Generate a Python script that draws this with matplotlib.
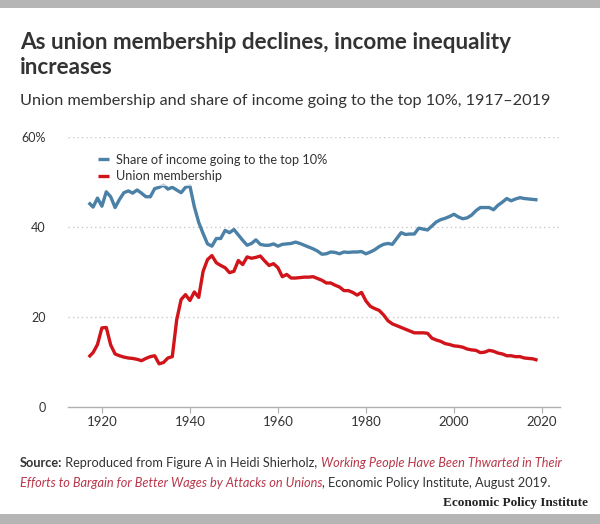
import matplotlib
matplotlib.use("Agg")
import matplotlib.pyplot as plt
from matplotlib.patches import Rectangle

years = list(range(1917, 2020))

union_membership = [
    11.0, 12.0, 13.8, 17.5, 17.6, 13.7, 11.7, 11.3, 11.0, 10.8,   # 1917-1926
    10.7, 10.5, 10.2, 10.7, 11.1, 11.3, 9.5, 9.8, 10.8, 11.1,     # 1927-1936
    19.3, 23.8, 24.9, 23.6, 25.5, 24.3, 30.1, 32.7, 33.6, 32.0,   # 1937-1946
    31.4, 30.9, 29.8, 30.1, 32.5, 31.6, 33.3, 33.0, 33.2, 33.5,   # 1947-1956
    32.4, 31.4, 31.8, 30.9, 28.9, 29.4, 28.6, 28.6, 28.7, 28.8,   # 1957-1966
    28.8, 28.9, 28.5, 28.1, 27.5, 27.5, 27.0, 26.6, 25.8, 25.8,   # 1967-1976
    25.4, 24.8, 25.4, 23.5, 22.3, 21.8, 21.4, 20.4, 19.1, 18.4,   # 1977-1986
    18.0, 17.6, 17.2, 16.8, 16.4, 16.4, 16.4, 16.3, 15.2, 14.8,   # 1987-1996
    14.5, 14.0, 13.8, 13.5, 13.4, 13.2, 12.8, 12.6, 12.5, 12.0,   # 1997-2006
    12.1, 12.5, 12.3, 11.9, 11.7, 11.3, 11.3, 11.1, 11.1, 10.8,   # 2007-2016
    10.7, 10.6, 10.3,                                             # 2017-2019
]

top10_share = [
    45.4, 44.4, 46.4, 44.6, 47.8, 46.7, 44.3, 46.1, 47.6, 48.0,   # 1917-1926
    47.5, 48.2, 47.5, 46.7, 46.7, 48.5, 48.8, 49.3, 48.4, 48.8,   # 1927-1936
    48.2, 47.6, 48.8, 49.1, 44.5, 41.0, 38.5, 36.2, 35.7, 37.4,   # 1937-1946
    37.4, 39.2, 38.7, 39.4, 38.2, 37.0, 35.9, 36.3, 37.1, 36.1,   # 1947-1956
    35.9, 35.9, 36.2, 35.7, 36.1, 36.2, 36.3, 36.6, 36.3, 35.9,   # 1957-1966
    35.5, 35.1, 34.6, 33.9, 34.0, 34.4, 34.3, 34.0, 34.4, 34.3,   # 1967-1976
    34.4, 34.4, 34.5, 34.0, 34.4, 34.9, 35.6, 36.1, 36.3, 36.1,   # 1977-1986
    37.4, 38.7, 38.3, 38.4, 38.4, 39.7, 39.5, 39.3, 40.2, 41.1,   # 1987-1996
    41.6, 41.9, 42.3, 42.8, 42.2, 41.8, 42.0, 42.6, 43.6, 44.3,   # 1997-2006
    44.3, 44.3, 43.8, 44.8, 45.5, 46.3, 45.8, 46.2, 46.5, 46.3,   # 2007-2016
    46.2, 46.1, 46.0,                                             # 2017-2019
]

series_labels = ["Share of income going to the top 10%", "Union membership"]
x_ticks = [1920, 1940, 1960, 1980, 2000, 2020]
y_ticks = [0, 20, 40, 60]
y_tick_labels = ["0", "20", "40", "60%"]

BLUE = "#4b80a7"
RED = "#d0141a"
TEXT = "#333333"
FONT = "Lato"

W, H = 600, 524
fig = plt.figure(figsize=(W / 100, H / 100), dpi=100)
fig.patch.set_facecolor("white")


def fx(px):
    return px / W


def fy(py):
    return 1 - py / H


# gray bars top and bottom
fig.patches.append(Rectangle((0, fy(8)), 1, 8 / H, transform=fig.transFigure,
                             facecolor="#b5b5b5", edgecolor="none"))
fig.patches.append(Rectangle((0, 0), 1, 10 / H, transform=fig.transFigure,
                             facecolor="#b5b5b5", edgecolor="none"))

ax = fig.add_axes([fx(68), fy(406.5), fx(560) - fx(68), fy(137) - fy(406.5)])
ax.set_xlim(1912.3, 2024.1)
ax.set_ylim(0, 60)

l1, = ax.plot(years, top10_share, color=BLUE, lw=2.4, solid_joinstyle="round",
              solid_capstyle="butt", label=series_labels[0], zorder=3)
l2, = ax.plot(years, union_membership, color=RED, lw=2.4, solid_joinstyle="round",
              solid_capstyle="butt", label=series_labels[1], zorder=3)

for s in ["top", "right", "left"]:
    ax.spines[s].set_visible(False)
ax.spines["bottom"].set_color("#b0b0b0")
ax.spines["bottom"].set_linewidth(1.0)

ax.set_yticks(y_ticks)
ax.set_yticklabels(y_tick_labels)
ax.set_xticks(x_ticks)
ax.set_xticklabels([str(t) for t in x_ticks])
ax.tick_params(axis="y", length=0, pad=16, labelsize=9, labelcolor=TEXT)
ax.tick_params(axis="x", length=4, width=0.8, color="#b0b0b0", pad=3,
               labelsize=9.5, labelcolor=TEXT)
for lab in ax.get_xticklabels() + ax.get_yticklabels():
    lab.set_fontfamily(FONT)

for yv in y_ticks[1:]:
    ax.axhline(yv, color="#c8c8c8", lw=1.0, linestyle=(0, (1, 2.2)), zorder=1)

leg = ax.legend(handles=[l1, l2], loc="upper left", bbox_to_anchor=(0.04, 0.975),
                frameon=True, facecolor="white", framealpha=0.65, edgecolor="none",
                handlelength=0.9, handletextpad=0.5, borderpad=0.3, labelspacing=0.35,
                prop={"family": FONT, "size": 9.2})
for t in leg.get_texts():
    t.set_color(TEXT)
leg.get_frame().set_boxstyle("square", pad=0)

# Titles
fig.text(fx(20), fy(43), "As union membership declines, income inequality",
         fontfamily=FONT, fontweight="bold", fontsize=16.2, color=TEXT, va="center")
fig.text(fx(20), fy(68), "increases",
         fontfamily=FONT, fontweight="bold", fontsize=16.2, color=TEXT, va="center")
fig.text(fx(20), fy(101), "Union membership and share of income going to the top 10%, 1917\u20132019",
         fontfamily=FONT, fontsize=11.7, color=TEXT, va="center")

# Source note, built from pieces
renderer = fig.canvas.get_renderer()
LINK = "#b8374a"
SRC_SIZE = 9.2


def put_pieces(pieces, x0, y0):
    x = x0
    for txt, kw in pieces:
        t = fig.text(fx(x), fy(y0), txt, fontfamily=FONT, fontsize=SRC_SIZE,
                     va="center", **kw)
        bb = t.get_window_extent(renderer=renderer)
        x += bb.width


put_pieces([
    ("Source:", {"fontweight": "bold", "color": TEXT}),
    (" Reproduced from Figure A in Heidi Shierholz, ", {"color": TEXT}),
    ("Working People Have Been Thwarted in Their", {"style": "italic", "color": LINK}),
], 20, 463)
put_pieces([
    ("Efforts to Bargain for Better Wages by Attacks on Unions", {"style": "italic", "color": LINK}),
    (", Economic Policy Institute, August 2019.", {"color": TEXT}),
], 20, 483)

fig.text(fx(588), fy(503), "Economic Policy Institute", fontfamily="Liberation Serif",
         fontweight="bold", fontsize=9.5, color="#222222", ha="right", va="center")

fig.savefig("out.png", dpi=100)
